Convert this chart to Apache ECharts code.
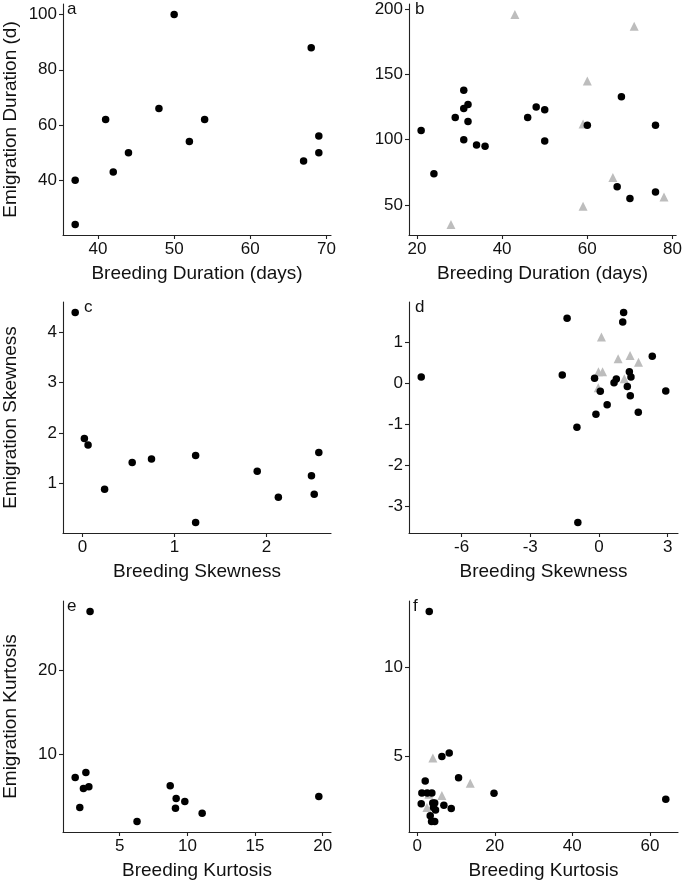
<!DOCTYPE html>
<html><head><meta charset="utf-8">
<script src="https://cdn.jsdelivr.net/npm/echarts@6/dist/echarts.min.js"></script>
<style>html,body{margin:0;padding:0;background:#fff}#c{width:685px;height:881px}</style>
</head><body><div id="c"></div><script>
// ---- data ----
const aBlack = [[37,40],[37,24],[41,62],[42,43],[44,50],[48,66],[50,100],[52,54],[54,62],[67,47],[68,88],[69,56],[69,50]];
const bBlack = [[21,107],[24,74],[29,117],[31,138],[31,124],[32,127],[32,114],[31,100],[34,96],[36,95],[46,117],[48,125],[50,123],[50,99],[60,111],[68,133],[76,111],[67,64],[70,55],[76,60]];
const bGray = [[43,196],[71,187],[60,145],[59,112],[66,71],[59,49],[78,56],[28,35]];
const cBlack = [[-0.08,4.39],[0.02,1.89],[0.06,1.76],[0.24,0.88],[0.54,1.41],[0.75,1.48],[1.23,1.55],[1.23,0.22],[1.9,1.24],[2.13,0.72],[2.49,1.15],[2.52,0.78],[2.57,1.61]];
const dBlack = [[-7.76,0.16],[-1.39,1.6],[-1.6,0.21],[-0.19,0.13],[0.06,-0.19],[0.36,-0.52],[-0.13,-0.75],[-0.96,-1.07],[-0.92,-3.4],[0.66,0.02],[0.76,0.11],[1.08,1.74],[1.04,1.51],[1.33,0.29],[1.4,0.16],[1.24,-0.07],[1.37,-0.3],[1.72,-0.7],[2.33,0.67],[2.92,-0.18]];
const dGray = [[0.11,1.14],[0.84,0.61],[1.36,0.69],[1.73,0.52],[-0.02,0.29],[0.16,0.29],[1.11,0.12],[-0.03,-0.1]];
const eBlack = [[1.71,7.2],[2.05,3.6],[2.32,5.88],[2.5,7.8],[2.72,6.08],[2.81,27.1],[6.28,1.92],[8.73,6.2],[9.17,4.68],[9.12,3.52],[9.81,4.32],[11.09,2.92],[19.71,4.92]];
const fBlack = [[3.1,13.15],[6.36,4.98],[8.25,5.17],[10.66,3.77],[2.06,3.6],[1.19,2.92],[2.57,2.92],[3.77,2.92],[19.8,2.9],[64.1,2.57],[1.03,2.31],[4.0,2.35],[4.5,2.35],[6.87,2.23],[8.77,2.04],[4.72,1.96],[4.2,2.1],[3.35,1.63],[3.7,1.31],[4.5,1.31]];
const fGray = [[4.03,4.89],[13.67,3.47],[6.35,2.78],[2.5,2.1],[3.0,2.85]];

const aXTicks = [40,50,60,70], aYTicks = [40,60,80,100];
const bXTicks = [20,40,60,80], bYTicks = [50,100,150,200];
const cXTicks = [0,1,2], cYTicks = [1,2,3,4];
const dXTicks = [-6,-3,0,3], dYTicks = [-3,-2,-1,0,1,2];
const eXTicks = [5,10,15,20], eYTicks = [10,20];
const fXTicks = [0,20,40,60], fYTicks = [5,10];

const panelLabels = ['a','b','c','d','e','f'];
const xTitles = ['Breeding Duration (days)','Breeding Duration (days)','Breeding Skewness','Breeding Skewness','Breeding Kurtosis','Breeding Kurtosis'];
const yTitles = ['Emigration Duration (d)','','Emigration Skewness','','Emigration Kurtosis',''];

// ---- layout ----
const F = 'Liberation Sans, Arial, sans-serif';
const TXT = '#111111', AX = '#222222', GRAY = '#bdbdbd';
const colLeft = [62, 409], gridW = 269;
const rowTop = [4, 302, 601], gridH = 231;
const labelDx = [5, 6, 22, 6, 5, 4];

const panels = [
  {black:aBlack, gray:[], xt:aXTicks, yt:aYTicks},
  {black:bBlack, gray:bGray, xt:bXTicks, yt:bYTicks},
  {black:cBlack, gray:[], xt:cXTicks, yt:cYTicks},
  {black:dBlack, gray:dGray, xt:dXTicks, yt:dYTicks},
  {black:eBlack, gray:[], xt:eXTicks, yt:eYTicks},
  {black:fBlack, gray:fGray, xt:fXTicks, yt:fYTicks}
];

function ext(pts, k) {
  const v = pts.map(p => p[k]);
  const mn = Math.min(...v), mx = Math.max(...v), e = (mx - mn) * 0.05;
  return [mn - e, mx + e];
}

const grid = [], xAxis = [], yAxis = [], series = [], graphic = [];
panels.forEach((p, i) => {
  const col = i % 2, row = Math.floor(i / 2);
  const L = colLeft[col], T = rowTop[row];
  grid.push({left: L, top: T, width: gridW, height: gridH, containLabel: false});
  const all = p.black.concat(p.gray);
  const [x0, x1] = ext(all, 0), [y0, y1] = ext(all, 1);
  const common = {
    type: 'value', gridIndex: i, nameLocation: 'middle',
    nameTextStyle: {fontFamily: F, fontSize: 19, color: TXT},
    axisLine: {show: true, onZero: false, lineStyle: {color: AX, width: 1.1}},
    splitLine: {show: false}
  };
  xAxis.push(Object.assign({}, common, {
    min: x0, max: x1, name: xTitles[i], nameGap: 29,
    axisTick: {show: true, length: 4, customValues: p.xt, lineStyle: {color: AX, width: 1.1}},
    axisLabel: {customValues: p.xt, fontFamily: F, fontSize: 17, color: TXT, margin: 6}
  }));
  yAxis.push(Object.assign({}, common, {
    min: y0, max: y1, name: yTitles[i], nameGap: 43, nameRotate: 90,
    axisTick: {show: true, length: 4, customValues: p.yt, lineStyle: {color: AX, width: 1.1}},
    axisLabel: {customValues: p.yt, fontFamily: F, fontSize: 17, color: TXT, margin: 6}
  }));
  if (p.gray.length) series.push({
    type: 'scatter', xAxisIndex: i, yAxisIndex: i, data: p.gray,
    symbol: 'triangle', symbolSize: 9, itemStyle: {color: GRAY, opacity: 1}, silent: true
  });
  series.push({
    type: 'scatter', xAxisIndex: i, yAxisIndex: i, data: p.black,
    symbol: 'circle', symbolSize: 7.5, itemStyle: {color: '#000', opacity: 1}, silent: true
  });
  graphic.push({
    type: 'text', x: L + labelDx[i], y: T + 5,
    style: {text: panelLabels[i], font: '17px ' + F, fill: TXT, verticalAlign: 'middle', align: 'left'}
  });
});

const chart = echarts.init(document.getElementById('c'), null, {renderer: 'canvas'});
chart.setOption({animation: false, backgroundColor: '#fff', grid, xAxis, yAxis, series, graphic});
</script></body></html>
